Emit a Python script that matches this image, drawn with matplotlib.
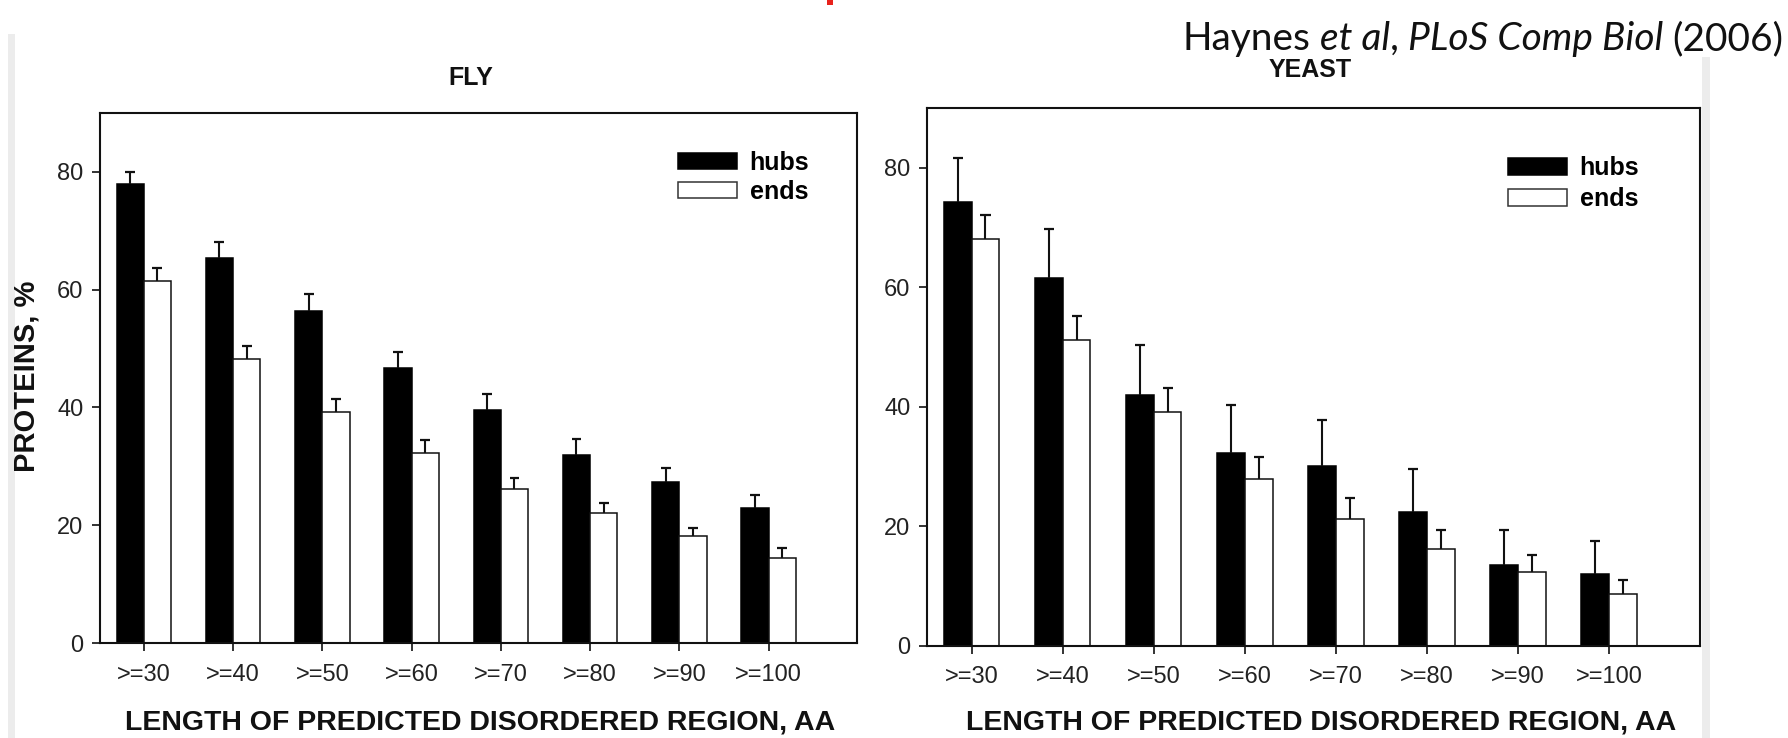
import matplotlib
matplotlib.use("Agg")
import matplotlib.pyplot as plt
from matplotlib.patches import Rectangle, Patch

# data (Haynes et al. 2006)
bins = [">=30", ">=40", ">=50", ">=60", ">=70", ">=80", ">=90", ">=100"]

fly_hubs = [77.9, 65.4, 56.4, 46.7, 39.6, 31.9, 27.3, 22.9]
fly_hubs_err = [2.1, 2.7, 2.8, 2.7, 2.6, 2.7, 2.5, 2.3]
fly_ends = [61.5, 48.3, 39.2, 32.2, 26.1, 22.0, 18.1, 14.5]
fly_ends_err = [2.1, 2.1, 2.2, 2.2, 1.9, 1.7, 1.5, 1.6]

yeast_hubs = [74.3, 61.5, 42.0, 32.2, 30.0, 22.4, 13.4, 12.0]
yeast_hubs_err = [7.4, 8.2, 8.3, 8.0, 7.7, 7.1, 5.9, 5.5]
yeast_ends = [68.1, 51.1, 39.1, 27.9, 21.1, 16.2, 12.3, 8.7]
yeast_ends_err = [4.0, 4.0, 4.1, 3.6, 3.6, 3.1, 2.8, 2.3]

W, H = 1788, 738
FONT = "Liberation Sans"
plt.rcParams['font.family'] = [FONT, 'DejaVu Sans']


def fx(x):
    return x / W


def fy(y):
    return 1 - y / H


def panel(ax, hubs, hubs_err, ends, ends_err, xmax, leg_anchor, leg_space):
    bw = 0.305
    cap = 0.055
    xs = list(range(len(bins)))
    xh = [x - bw / 2 for x in xs]
    xe = [x + bw / 2 for x in xs]
    ax.bar(xh, hubs, bw, color='black', edgecolor='black', linewidth=1.1, zorder=2)
    ax.bar(xe, ends, bw, color='white', edgecolor='#111111', linewidth=1.1, zorder=2)
    # one-sided error bars
    for pos, val, err in ((xh, hubs, hubs_err), (xe, ends, ends_err)):
        tops = [v + e for v, e in zip(val, err)]
        ax.vlines(pos, val, tops, colors='#111111', linewidth=1.5, zorder=3)
        ax.hlines(tops, [p - cap for p in pos], [p + cap for p in pos],
                  colors='#111111', linewidth=1.6, zorder=3)
    ax.set_xlim(-0.49, xmax)
    ax.set_ylim(0, 90)
    ax.set_yticks([0, 20, 40, 60, 80])
    ax.set_xticks(xs)
    ax.set_xticklabels(bins)
    ax.tick_params(direction='out', length=6, width=1.2, labelsize=17,
                   colors='#111111', labelcolor='#222222')
    ax.tick_params(axis='y', pad=6)
    ax.tick_params(axis='x', pad=9)
    for s in ax.spines.values():
        s.set_linewidth(1.5)
        s.set_color('#111111')
    handles = [Patch(facecolor='black', edgecolor='black', linewidth=1.1),
               Patch(facecolor='white', edgecolor='#333333', linewidth=1.1)]
    ax.legend(handles, ['hubs', 'ends'], loc='upper left', bbox_to_anchor=leg_anchor,
              frameon=False, prop={'family': FONT, 'weight': 'bold', 'size': 18},
              handlelength=2.35, handleheight=0.62, handletextpad=0.5,
              labelspacing=leg_space, borderpad=0, borderaxespad=0)


fig = plt.figure(figsize=(W / 100, H / 100), dpi=100)

# light grey slide strips and the red speck at the top
fig.patches.append(Rectangle((fx(8), 0), fx(7), fy(34), transform=fig.transFigure,
                             facecolor='#ececec', edgecolor='none'))
fig.patches.append(Rectangle((fx(1702), 0), fx(8), fy(57), transform=fig.transFigure,
                             facecolor='#ececec', edgecolor='none'))
fig.patches.append(Rectangle((fx(827), fy(5)), fx(6), 5 / H, transform=fig.transFigure,
                             facecolor='#e8221c', edgecolor='none'))

ax1 = fig.add_axes([fx(100), fy(643), (857 - 100) / W, (643 - 113) / H])
ax2 = fig.add_axes([fx(927), fy(645.5), (1700 - 927) / W, (645.5 - 108) / H])

panel(ax1, fly_hubs, fly_hubs_err, fly_ends, fly_ends_err, 7.99, (0.764, 0.928), 0.2)
panel(ax2, yeast_hubs, yeast_hubs_err, yeast_ends, yeast_ends_err, 8.0, (0.752, 0.91), 0.28)

bold = dict(family=FONT, weight='bold', color='#111111')
fig.text(fx(471), fy(78), 'FLY', ha='center', va='center', fontsize=18, **bold)
fig.text(fx(1310), fy(70), 'YEAST', ha='center', va='center', fontsize=18, **bold)
fig.text(fx(27), fy(376), 'PROTEINS, %', ha='center', va='center', rotation=90,
         fontsize=21, **bold)
xl = 'LENGTH OF PREDICTED DISORDERED REGION, AA'
fig.text(fx(480), fy(723), xl, ha='center', va='center', fontsize=20.5, **bold)
fig.text(fx(1321), fy(723), xl, ha='center', va='center', fontsize=20.5, **bold)

# citation with italic parts, placed piece by piece
cite = [("Haynes", 'normal'), ("et al", 'italic'), (",", 'normal'),
        ("PLoS Comp Biol", 'italic'), ("(2006)", 'normal')]
gaps = [0.24, 0.0, 0.22, 0.24]
renderer = fig.canvas.get_renderer()
csize = 28
x = 1183
base = 50
for i, (s, style) in enumerate(cite):
    t = fig.text(fx(x), fy(base), s, ha='left', va='baseline', fontsize=csize,
                 family='Lato', style=style, color='#111111')
    x = t.get_window_extent(renderer).x1
    if i < len(gaps):
        x += gaps[i] * csize * 100 / 72

fig.savefig('out.png', dpi=100)
